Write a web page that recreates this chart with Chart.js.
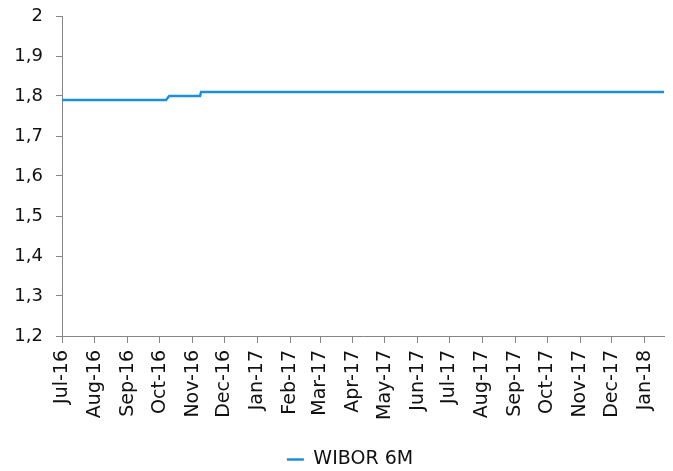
<!DOCTYPE html>
<html>
<head>
<meta charset="utf-8">
<script src="https://cdn.jsdelivr.net/npm/chart.js@4"></script>
<style>
  html, body { margin: 0; padding: 0; background: #fff; }
  #wrap { width: 673px; height: 471px; }
</style>
</head>
<body>
<div id="wrap"><canvas id="wibor"></canvas></div>
<script>
// tick labels for the date axis (month starts)
const monthLabels = ['Jul-16', 'Aug-16', 'Sep-16', 'Oct-16', 'Nov-16', 'Dec-16', 'Jan-17', 'Feb-17', 'Mar-17',
  'Apr-17', 'May-17', 'Jun-17', 'Jul-17', 'Aug-17', 'Sep-17', 'Oct-17', 'Nov-17', 'Dec-17', 'Jan-18'];
// fixing dates where the rate changes, and the rate values
const rateDates = ['2016-07-01', '2016-10-07', '2016-10-10', '2016-11-08', '2016-11-09', '2018-01-19'];
const rateValues = [1.79, 1.79, 1.80, 1.80, 1.81, 1.81];
const yTicks = [1.2, 1.3, 1.4, 1.5, 1.6, 1.7, 1.8, 1.9, 2];
const seriesName = 'WIBOR 6M';

const DAY = 86400000;
const start = Date.UTC(2016, 6, 1);
const monNames = ['Jan', 'Feb', 'Mar', 'Apr', 'May', 'Jun', 'Jul', 'Aug', 'Sep', 'Oct', 'Nov', 'Dec'];

function dayOf(iso) {
    const p = iso.split('-').map(Number);
    return Math.round((Date.UTC(p[0], p[1] - 1, p[2]) - start) / DAY);
}
function labelDay(lbl) {
    const [m, y] = lbl.split('-');
    return Math.round((Date.UTC(2000 + Number(y), monNames.indexOf(m), 1) - start) / DAY);
}

const tickDays = monthLabels.map(labelDay);
const punkty = rateDates.map((d, i) => ({ x: dayOf(d), y: rateValues[i] }));

const warnaGaris = '#1E8FDB';
const warnaSumbu = '#868686';
const family = 'Verdana, "DejaVu Sans", sans-serif';

// geser legenda sedikit ke kanan, seperti di gambar asli
const geserLegenda = {
    id: 'geserLegenda',
    afterLayout(chart) {
        if (chart.legend) {
            chart.legend.left += 18;
            chart.legend.right += 18;
        }
    }
};

new Chart(document.getElementById('wibor'), {
    type: 'line',
    data: {
        datasets: [{
            label: seriesName,
            data: punkty,
            borderColor: warnaGaris,
            backgroundColor: warnaGaris,
            borderWidth: 2.5,
            pointRadius: 0,
            tension: 0,
            fill: false
        }]
    },
    plugins: [geserLegenda],
    options: {
        responsive: true,
        maintainAspectRatio: false,
        animation: false,
        layout: { padding: { top: 16, right: 9, left: 0, bottom: -8 } },
        plugins: {
            tooltip: { enabled: false },
            legend: {
                position: 'bottom',
                labels: {
                    color: '#111',
                    font: { family, size: 19 },
                    boxWidth: 17,
                    boxHeight: 2.5,
                    padding: 6,
                    generateLabels(chart) {
                        const items = Chart.defaults.plugins.legend.labels.generateLabels(chart);
                        items.forEach(it => { it.lineWidth = 0; it.fillStyle = warnaGaris; });
                        return items;
                    }
                }
            }
        },
        scales: {
            x: {
                type: 'linear',
                min: 0,
                max: dayOf('2018-01-19'),
                afterBuildTicks(scale) {
                    scale.ticks = tickDays.map(v => ({ value: v }));
                },
                afterFit(scale) {
                    scale.height = 108;
                    scale.paddingLeft = 0;
                    scale.paddingRight = 0;
                },
                ticks: {
                    autoSkip: false,
                    minRotation: 90,
                    maxRotation: 90,
                    padding: 7,
                    color: '#111',
                    font: { family, size: 19 },
                    callback: (v, i) => monthLabels[i]
                },
                grid: { drawOnChartArea: false, drawTicks: true, tickLength: 7, color: warnaSumbu },
                border: { display: true, color: warnaSumbu, width: 1 }
            },
            y: {
                min: 1.2,
                max: 2,
                afterBuildTicks(scale) {
                    scale.ticks = yTicks.map(v => ({ value: v }));
                },
                afterFit(scale) {
                    scale.width = 62;
                    scale.paddingTop = 0;
                    scale.paddingBottom = 0;
                },
                ticks: {
                    padding: 13,
                    color: '#111',
                    font: { family, size: 18 },
                    callback: v => String(Number(v.toFixed(1))).replace('.', ',')
                },
                grid: { drawOnChartArea: false, drawTicks: true, tickLength: 6, color: warnaSumbu },
                border: { display: true, color: warnaSumbu, width: 1 }
            }
        }
    }
});
</script>
</body>
</html>
